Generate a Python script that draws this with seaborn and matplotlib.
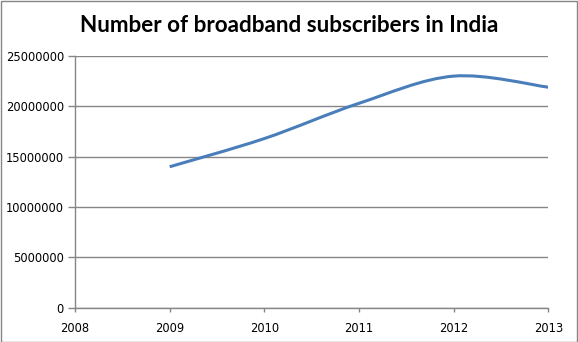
import numpy as np
import pandas as pd
import seaborn as sns
import matplotlib
matplotlib.use("Agg")
import matplotlib.pyplot as plt
from matplotlib.path import Path
from matplotlib.patches import PathPatch, Rectangle

years = [2009, 2010, 2011, 2012, 2013]
subscribers = [14000000, 16800000, 20300000, 23000000, 21900000]
x_ticks = [2008, 2009, 2010, 2011, 2012, 2013]
y_ticks = [0, 5000000, 10000000, 15000000, 20000000, 25000000]
title = "Number of broadband subscribers in India"

sns.set_style("white")
plt.rcParams["font.family"] = ["DejaVu Sans"]

df = pd.DataFrame({"year": years, "subs": subscribers})

fig = plt.figure(figsize=(5.78, 3.42), dpi=100)
ax = fig.add_axes([0.1298, 0.1003, 0.9486 - 0.1298, 0.8363 - 0.1003])

line_color = "#4A7EBB"
sns.lineplot(data=df, x="year", y="subs", ax=ax, color=line_color, linewidth=2.2)

# Replace the polyline by an Excel-style smoothed Bezier through the same data
ln = ax.lines[0]
xd = np.asarray(ln.get_xdata(), dtype=float)
yd = np.asarray(ln.get_ydata(), dtype=float)
ln.remove()
pts = np.column_stack([xd, yd])
n = len(pts)
verts = [tuple(pts[0])]
codes = [Path.MOVETO]
for i in range(n - 1):
    p0 = pts[i - 1] if i > 0 else pts[i]
    p1 = pts[i]
    p2 = pts[i + 1]
    p3 = pts[i + 2] if i + 2 < n else pts[i + 1]
    c1 = p1 + (p2 - p0) / 6.0
    c2 = p2 - (p3 - p1) / 6.0
    verts += [tuple(c1), tuple(c2), tuple(p2)]
    codes += [Path.CURVE4] * 3
ax.add_patch(PathPatch(Path(verts, codes), facecolor="none", edgecolor=line_color,
                       linewidth=2.2, capstyle="butt", joinstyle="round", zorder=3))

ax.set_xlim(2008, 2013)
ax.set_ylim(0, 25000000)
ax.set_xticks(x_ticks)
ax.set_xticklabels([str(t) for t in x_ticks])
ax.set_yticks(y_ticks)
ax.set_yticklabels([str(t) for t in y_ticks])
ax.set_xlabel("")
ax.set_ylabel("")

grid_c = "#868686"
ax.yaxis.grid(True, color=grid_c, linewidth=1.0)
ax.xaxis.grid(False)
ax.set_axisbelow(True)
for s in ["top", "right"]:
    ax.spines[s].set_visible(False)
for s in ["left", "bottom"]:
    ax.spines[s].set_visible(True)
    ax.spines[s].set_color(grid_c)
    ax.spines[s].set_linewidth(1.0)

ax.tick_params(axis="y", which="both", length=5, width=1.0, color=grid_c,
               labelsize=8.3, labelcolor="black", direction="out", pad=3,
               left=True)
ax.tick_params(axis="x", which="both", length=3, width=1.0, color=grid_c,
               labelsize=8.3, labelcolor="black", direction="out", pad=7,
               bottom=True)

fig.text(0.5, 1 - 25 / 342, title, ha="center", va="center",
         fontsize=16.2, fontweight="bold", family=["Lato", "DejaVu Sans"], color="black")

# Outer chart border
fig.patches.append(Rectangle((0.5 / 578, 0.5 / 342), 1 - 1.5 / 578, 1 - 1.5 / 342,
                             transform=fig.transFigure, fill=False,
                             edgecolor=grid_c, linewidth=1.0))

fig.savefig("out.png", dpi=100)
